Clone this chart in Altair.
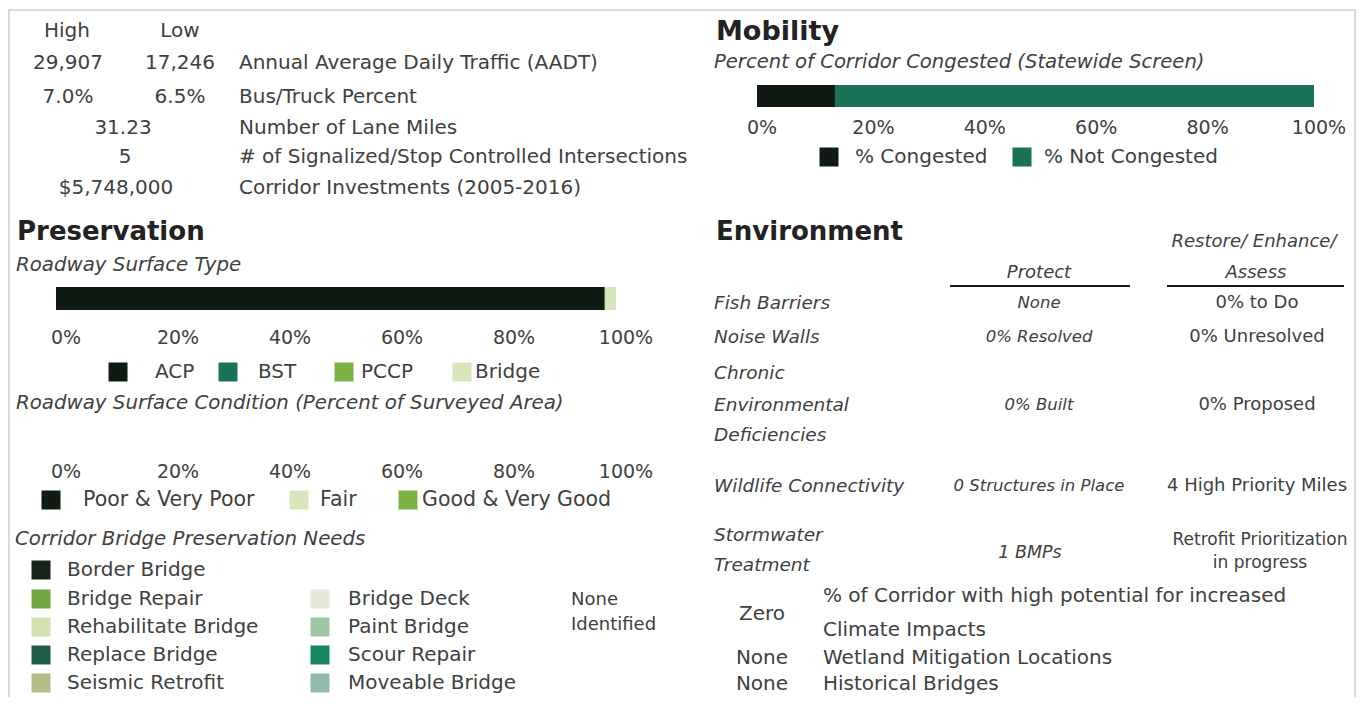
import altair as alt
import pandas as pd

# ---------------- data ----------------
top_head = ["High", "Low"]
top_labels = ["Annual Average Daily Traffic (AADT)", "Bus/Truck Percent", "Number of Lane Miles",
              "# of Signalized/Stop Controlled Intersections", "Corridor Investments (2005-2016)"]
top_high = ["29,907", "7.0%"]
top_low = ["17,246", "6.5%"]
top_single = ["31.23", "5", "$5,748,000"]

mob_cats = ["% Congested", "% Not Congested"]
mob_vals = [14, 86]

surf_cats = ["ACP", "BST", "PCCP", "Bridge"]
surf_vals = [98, 0, 0, 2]

cond_cats = ["Poor & Very Poor", "Fair", "Good & Very Good"]
cond_vals = []  # no surveyed data shown

tick_vals = [0, 20, 40, 60, 80, 100]

bridge_col1 = ["Border Bridge", "Bridge Repair", "Rehabilitate Bridge", "Replace Bridge", "Seismic Retrofit"]
bridge_col2 = ["Bridge Deck", "Paint Bridge", "Scour Repair", "Moveable Bridge"]
bridge_none = ["None", "Identified"]

env_rows = [["Fish Barriers"], ["Noise Walls"], ["Chronic", "Environmental", "Deficiencies"],
            ["Wildlife Connectivity"], ["Stormwater", "Treatment"]]
env_protect = ["None", "0% Resolved", "0% Built", "0 Structures in Place", "1 BMPs"]
env_restore = [["0% to Do"], ["0% Unresolved"], ["0% Proposed"], ["4 High Priority Miles"],
               ["Retrofit Prioritization", "in progress"]]
env_bottom_vals = ["Zero", "None", "None"]
env_bottom_labels = [["% of Corridor with high potential for increased", "Climate Impacts"],
                     ["Wetland Mitigation Locations"], ["Historical Bridges"]]

# ---------------- styles / layout ----------------
BODY = "DejaVu Sans"
TXT = "#404040"
HCOL = "#222222"
DARK = "#0f1a12"
TEAL = "#1b7058"
GREEN = "#7db344"
LIGHT = "#d8e6bb"
O = 8  # page margin offset

mob_colors = [DARK, TEAL]
surf_colors = [DARK, TEAL, GREEN, LIGHT]
cond_colors = [DARK, LIGHT, GREEN]
bridge_colors1 = ["#172319", "#70a83f", "#d3e0b0", "#1e5a45", "#b3bd88"]
bridge_colors2 = ["#e6eada", "#9cc6a6", "#17885c", "#93b9aa"]


def P(v):
    return v - O


def text_layer(rows, size, style="normal", weight="normal", align="left", color=TXT):
    df = pd.DataFrame(rows, columns=["t", "px", "py"])
    df["px"] = df["px"].map(P)
    df["py"] = df["py"].map(P)
    return alt.Chart(df).mark_text(
        align=align, baseline="middle", fontSize=size, font=BODY, fontStyle=style,
        fontWeight=weight, color=color
    ).encode(
        x=alt.X("px:Q", scale=None, axis=None),
        y=alt.Y("py:Q", scale=None, axis=None),
        text="t:N",
    )


def squares(names, colors, xs, ys, size=19):
    df = pd.DataFrame({"c": names, "px": [P(v) for v in xs], "py": [P(v) for v in ys]})
    return alt.Chart(df).mark_square(size=size * size, opacity=1).encode(
        x=alt.X("px:Q", scale=None, axis=None),
        y=alt.Y("py:Q", scale=None, axis=None),
        color=alt.Color("c:N", scale=alt.Scale(domain=names, range=colors), legend=None),
    )


def stacked_bar(cats, vals, colors, x0, x1, y0, y1, tick_y, tick_dx):
    xs = alt.Scale(domain=[0, 100], range=[P(x0), P(x1)])
    layers = []
    if len(vals):
        df = pd.DataFrame({"c": cats, "v": vals, "i": list(range(len(cats)))})
        bar = alt.Chart(df).transform_stack(
            stack="v", as_=["v0", "v1"], groupby=[], sort=[alt.SortField("i")]
        ).mark_rect().encode(
            x=alt.X("v0:Q", scale=xs, axis=None),
            x2="v1:Q",
            y=alt.value(P(y0)),
            y2=alt.value(P(y1)),
            color=alt.Color("c:N", scale=alt.Scale(domain=cats, range=colors), legend=None),
        )
        layers.append(bar)
    tdf = pd.DataFrame({"t": tick_vals, "lab": [f"{t}%" for t in tick_vals]})
    ticks = alt.Chart(tdf).mark_text(
        fontSize=19, font=BODY, color=TXT, baseline="middle", dx=tick_dx
    ).encode(x=alt.X("t:Q", scale=xs, axis=None), y=alt.value(P(tick_y)), text="lab:N")
    layers.append(ticks)
    return alt.layer(*layers)


layers = []

# frame
frame = pd.DataFrame({"x": [P(8), P(9), P(1355)], "x2": [P(1356), P(9), P(1355)],
                      "y": [P(10), P(10), P(10)], "y2": [P(10), P(705), P(705)]})
layers.append(alt.Chart(frame).mark_rule(color="#cfcfcf", strokeWidth=1.5).encode(
    x=alt.X("x:Q", scale=None, axis=None), x2="x2:Q",
    y=alt.Y("y:Q", scale=None, axis=None), y2="y2:Q"))

# ---- top table
top_rows_y = [63, 97, 128, 157, 188]
layers.append(text_layer([(top_head[0], 67, 31), (top_head[1], 180, 31)], 20, align="center"))
layers.append(text_layer([(top_high[i], 68, top_rows_y[i]) for i in range(2)]
                         + [(top_low[i], 180, top_rows_y[i]) for i in range(2)]
                         + [(top_single[i], [123, 125, 116][i], top_rows_y[i + 2]) for i in range(3)],
                         20, align="center"))
layers.append(text_layer([(top_labels[i], 239, top_rows_y[i]) for i in range(5)], 20))

# ---- mobility
layers.append(text_layer([("Mobility", 716, 32)], 27, weight="bold", color=HCOL))
layers.append(text_layer([("Percent of Corridor Congested (Statewide Screen)", 714, 62)], 19.6, style="italic"))
layers.append(stacked_bar(mob_cats, mob_vals, mob_colors, 757, 1314, 85, 107, 128, 5))
layers.append(squares(mob_cats, mob_colors, [829, 1022], [157, 157]))
layers.append(text_layer([(mob_cats[0], 855, 157), (mob_cats[1], 1044, 157)], 20))

# ---- preservation
layers.append(text_layer([("Preservation", 17, 232)], 26, weight="bold", color=HCOL))
layers.append(text_layer([("Roadway Surface Type", 16, 265)], 19.8, style="italic"))
layers.append(stacked_bar(surf_cats, surf_vals, surf_colors, 56, 616, 287, 310, 338, 10))
layers.append(squares(surf_cats, surf_colors, [118, 228, 344, 462], [372, 372, 372, 372]))
layers.append(text_layer([(surf_cats[0], 155, 372), (surf_cats[1], 258, 372),
                          (surf_cats[2], 361, 372), (surf_cats[3], 475, 372)], 20))
layers.append(text_layer([("Roadway Surface Condition (Percent of Surveyed Area)", 16, 403)], 19.8, style="italic"))
layers.append(stacked_bar(cond_cats, cond_vals, cond_colors, 56, 616, 430, 452, 472, 10))
layers.append(squares(cond_cats, cond_colors, [51, 299, 408], [500, 500, 500]))
layers.append(text_layer([(cond_cats[0], 83, 500), (cond_cats[1], 320, 500), (cond_cats[2], 422, 500)], 20.5))

# ---- bridge needs
layers.append(text_layer([("Corridor Bridge Preservation Needs", 15, 539)], 19.8, style="italic"))
row_y = [570, 599, 627, 655, 683]
layers.append(squares(bridge_col1, bridge_colors1, [41] * 5, row_y))
layers.append(squares(bridge_col2, bridge_colors2, [320] * 4, row_y[1:]))
layers.append(text_layer([(bridge_col1[i], 67, row_y[i]) for i in range(5)]
                         + [(bridge_col2[i], 348, row_y[i + 1]) for i in range(4)], 20))
layers.append(text_layer([(bridge_none[0], 571, 600), (bridge_none[1], 571, 625)], 18))

# ---- environment
layers.append(text_layer([("Environment", 716, 232)], 26, weight="bold", color=HCOL))
layers.append(text_layer([("Restore/ Enhance/", 1254, 242), ("Assess", 1256, 273),
                          ("Protect", 1039, 273)], 18, style="italic", align="center"))
uline = pd.DataFrame({"x": [P(950), P(1167)], "x2": [P(1130), P(1344)], "y": [P(286), P(286)]})
layers.append(alt.Chart(uline).mark_rule(color="#1a1a1a", strokeWidth=2).encode(
    x=alt.X("x:Q", scale=None, axis=None), x2="x2:Q", y=alt.Y("y:Q", scale=None, axis=None)))

env_label_y = [[303], [337], [373, 405, 435], [486], [535, 565]]
lab_rows = []
for lines, ys in zip(env_rows, env_label_y):
    for t, yy in zip(lines, ys):
        lab_rows.append((t, 714, yy))
layers.append(text_layer(lab_rows, 18.5, style="italic"))

prot_y = [303, 337, 405, 486, 553]
layers.append(text_layer([(env_protect[i], 1039, prot_y[i]) for i in range(4)], 16.5, style="italic", align="center"))
layers.append(text_layer([(env_protect[4], 1030, prot_y[4])], 17.5, style="italic", align="center"))
rest_y = [[303], [337], [405], [486], [540, 563]]
rest_rows = []
for lines, ys in zip(env_restore[:4], rest_y[:4]):
    for t, yy in zip(lines, ys):
        rest_rows.append((t, 1257, yy))
layers.append(text_layer(rest_rows, 18, align="center"))
layers.append(text_layer([(t, 1260, yy) for t, yy in zip(env_restore[4], rest_y[4])], 17, align="center"))

bot_val_y = [614, 658, 684]
bot_lab_y = [[596, 630], [658], [684]]
layers.append(text_layer([(env_bottom_vals[i], 762, bot_val_y[i]) for i in range(3)], 20, align="center"))
bl = []
for lines, ys in zip(env_bottom_labels, bot_lab_y):
    for t, yy in zip(lines, ys):
        bl.append((t, 823, yy))
layers.append(text_layer(bl, 20))

chart = alt.layer(*layers).resolve_scale(
    x="independent", y="independent", color="independent"
).properties(
    width=1348, height=689, autosize=alt.AutoSizeParams(type="none"), padding=0,
    background="white"
).configure_view(stroke=None)

chart.save("out.html", embed_options={"renderer": "svg", "actions": False})
